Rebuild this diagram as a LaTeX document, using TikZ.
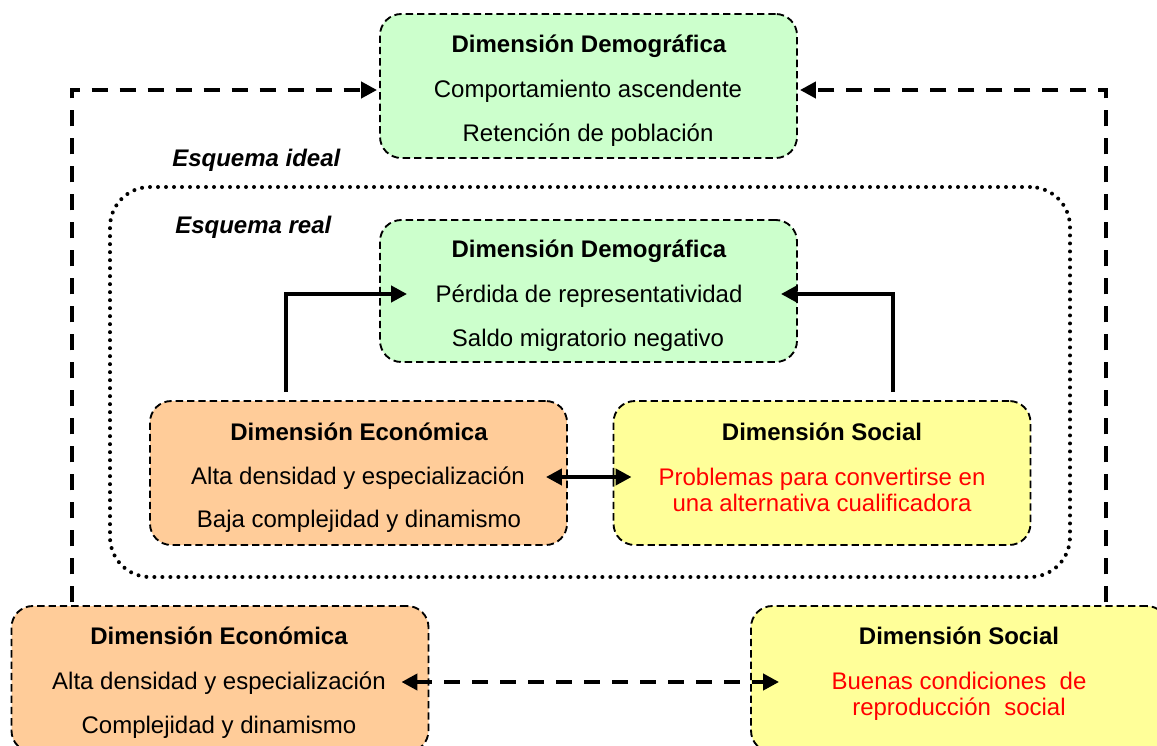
\documentclass[tikz,border=0pt]{standalone}
\usepackage{fontspec}
\setmainfont{Liberation Sans}
\usetikzlibrary{arrows.meta}
\definecolor{demgreen}{HTML}{CCFFCC}
\definecolor{ecoorange}{HTML}{FFCC99}
\definecolor{socyellow}{HTML}{FFFF99}
\definecolor{redtext}{HTML}{FF0000}
\begin{document}
\begin{tikzpicture}[x=0.75pt,y=-0.75pt,
  box/.style={draw, line width=1.4pt, dash pattern=on 5.5pt off 3pt, rounded corners=16pt,
    minimum width=312.75pt, minimum height=108pt, inner sep=0pt},
  txt/.style={font=\fontsize{18}{19.5}\selectfont, text height=13pt, text depth=3.5pt, inner sep=0pt, anchor=base},
  ttl/.style={txt, font=\fontsize{18}{19.5}\selectfont\bfseries},
  redtxt/.style={txt, text=redtext},
  lbl/.style={txt, font=\fontsize{18}{19.5}\selectfont\bfseries\itshape, anchor=base west},
  tipd/.tip={Triangle[length=12pt,width=12pt]},
  dasharrow/.style={line width=3.1pt, dash pattern=on 12pt off 9pt, -tipd},
  dashboth/.style={line width=3.1pt, dash pattern=on 12pt off 9pt, tipd-tipd},
  solarrow/.style={line width=3.7pt, -tipd},
  solboth/.style={line width=3.7pt, tipd-tipd},
  frame/.style={draw, line width=3pt, dash pattern=on 0pt off 6pt, line cap=round, rounded corners=30pt,
    minimum width=720pt, minimum height=292.5pt, inner sep=0pt}
]
\useasboundingbox (0,0) rectangle (1157,746);

% inner frame (Esquema real)
\node[frame] (fr) at (590,382) {};
\node[lbl] (lideal) at (172,166) {Esquema ideal};
\node[lbl] (lreal) at (175,233) {Esquema real};

% ideal demographic
\node[box, fill=demgreen] (td) at (588.5,86) {};
\node[ttl] (td1) at (589,52.5) {Dimensión Demográfica};
\node[txt] (td2) at (588,97.5) {Comportamiento ascendente};
\node[txt] (td3) at (588,141) {Retención de población};

% real demographic
\node[box, fill=demgreen, minimum height=106.5pt] (rd) at (588.5,291) {};
\node[ttl] (rd1) at (589,257) {Dimensión Demográfica};
\node[txt] (rd2) at (589,302.5) {Pérdida de representatividad};
\node[txt] (rd3) at (588,346) {Saldo migratorio negativo};

% real economic
\node[box, fill=ecoorange] (re) at (358.5,473) {};
\node[ttl] (re1) at (359,440) {Dimensión Económica};
\node[txt] (re2) at (358,484) {Alta densidad y especialización};
\node[txt] (re3) at (359,527) {Baja complejidad y dinamismo};

% real social
\node[box, fill=socyellow] (rs) at (822,473) {};
\node[ttl] (rs1) at (822,440) {Dimensión Social};
\node[redtxt] (rs2) at (822,485) {Problemas para convertirse en};
\node[redtxt] (rs3) at (822,511) {una alternativa cualificadora};

% ideal economic
\node[box, fill=ecoorange, minimum height=109.5pt] (be) at (220,679) {};
\node[ttl] (be1) at (219,644) {Dimensión Económica};
\node[txt] (be2) at (219,689) {Alta densidad y especialización};
\node[txt] (be3) at (219,733) {Complejidad y dinamismo};

% ideal social
\node[box, fill=socyellow, minimum height=109.5pt] (bs) at (959.5,679) {};
\node[ttl] (bs1) at (959,644) {Dimensión Social};
\node[redtxt] (bs2) at (959,689) {Buenas condiciones\ \ de};
\node[redtxt] (bs3) at (959,715) {reproducción\ \ social};

% connector corners
\coordinate (lx) at (72,90);
\coordinate (rx) at (1106,90);
\coordinate (sl) at (286,294);
\coordinate (sr) at (893,294);
\coordinate (rm) at (590,477);
\coordinate (bm) at (590,682);

% ideal dashed connectors
\draw[dasharrow, shorten <=2pt, shorten >=1.5pt] (be.north -| lx) -- (lx) -- (td.west |- lx);
\draw[dasharrow, shorten <=2pt, shorten >=1.5pt] (bs.north -| rx) -- (rx) -- (td.east |- rx);
\draw[dashboth, shorten <=-21pt, shorten >=-21.75pt] (be.east |- bm) -- (bs.west |- bm);

% real solid connectors
\draw[solarrow, shorten <=6pt, shorten >=-21pt] (re.north -| sl) -- (sl) -- (rd.west |- sl);
\draw[solarrow, shorten <=6pt, shorten >=-12.75pt] (rs.north -| sr) -- (sr) -- (rd.east |- sr);
\draw[solboth, shorten <=-16.5pt, shorten >=-14.25pt] (re.east |- rm) -- (rs.west |- rm);
\end{tikzpicture}
\end{document}
